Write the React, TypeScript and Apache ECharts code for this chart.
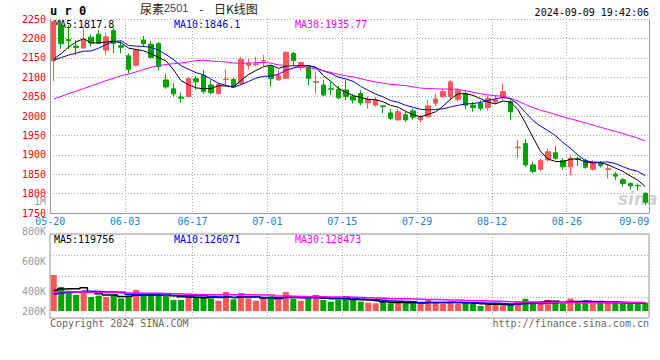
import React, { useEffect, useRef } from 'react';
import * as echarts from 'echarts';

// ---- data ----
const dates: string[] = [
  '05-20', '05-21', '05-22', '05-23', '05-24', '05-27', '05-28', '05-29', '05-30', '05-31',
  '06-03', '06-04', '06-05', '06-06', '06-07', '06-11', '06-12', '06-13', '06-14',
  '06-17', '06-18', '06-19', '06-20', '06-21', '06-24', '06-25', '06-26', '06-27', '06-28',
  '07-01', '07-02', '07-03', '07-04', '07-05', '07-08', '07-09', '07-10', '07-11', '07-12',
  '07-15', '07-16', '07-17', '07-18', '07-19', '07-22', '07-23', '07-24', '07-25', '07-26',
  '07-29', '07-30', '07-31', '08-01', '08-02', '08-05', '08-06', '08-07', '08-08', '08-09',
  '08-12', '08-13', '08-14', '08-15', '08-16', '08-19', '08-20', '08-21', '08-22', '08-23',
  '08-26', '08-27', '08-28', '08-29', '08-30', '09-02', '09-03', '09-04', '09-05', '09-06',
  '09-09',
];
const tickDates: string[] = ['05-20', '06-03', '06-17', '07-01', '07-15', '07-29', '08-12', '08-26', '09-09'];

// [open, close, low, high]
const ohlc: number[][] = [
  [2142, 2243, 2090, 2246], [2234, 2186, 2172, 2247], [2197, 2194, 2172, 2234], [2180, 2176, 2157, 2196],
  [2175, 2198, 2174, 2226], [2203, 2188, 2180, 2210], [2211, 2187, 2186, 2222], [2170, 2204, 2157, 2214],
  [2220, 2187, 2162, 2227], [2181, 2177, 2162, 2192], [2155, 2120, 2110, 2161], [2131, 2170, 2128, 2172],
  [2196, 2186, 2178, 2206], [2185, 2151, 2148, 2193], [2187, 2127, 2117, 2190], [2093, 2075, 2070, 2109],
  [2070, 2057, 2050, 2085], [2049, 2046, 2034, 2060], [2050, 2097, 2048, 2100], [2096, 2088, 2068, 2103],
  [2105, 2063, 2058, 2118], [2080, 2060, 2056, 2092], [2058, 2082, 2055, 2085], [2094, 2095, 2075, 2120],
  [2094, 2075, 2072, 2098], [2084, 2146, 2080, 2152], [2131, 2136, 2120, 2147], [2133, 2134, 2128, 2153],
  [2142, 2143, 2129, 2157], [2127, 2097, 2076, 2131], [2093, 2104, 2091, 2119], [2097, 2164, 2095, 2167],
  [2161, 2143, 2128, 2165], [2125, 2138, 2117, 2140], [2125, 2097, 2080, 2131], [2087, 2089, 2058, 2114],
  [2080, 2054, 2052, 2093], [2070, 2069, 2054, 2088], [2069, 2047, 2044, 2077], [2067, 2050, 2041, 2093],
  [2051, 2041, 2032, 2057], [2058, 2034, 2028, 2067], [2034, 2043, 2019, 2051], [2028, 2041, 2024, 2049],
  [2026, 2024, 2007, 2027], [2008, 1994, 1990, 2018], [1990, 2011, 1988, 2018], [2003, 1990, 1985, 2011],
  [2013, 1997, 1990, 2019], [1990, 1997, 1983, 2003], [1998, 2026, 1996, 2041], [2033, 2044, 2026, 2057],
  [2050, 2063, 2047, 2070], [2050, 2088, 2040, 2092], [2043, 2065, 2037, 2071], [2058, 2028, 2017, 2065],
  [2028, 2022, 2011, 2036], [2033, 2020, 2014, 2040], [2022, 2045, 2014, 2053], [2036, 2042, 2030, 2052],
  [2047, 2063, 2040, 2083], [2037, 2011, 1990, 2043], [1918, 1920, 1891, 1938], [1929, 1874, 1869, 1941],
  [1874, 1857, 1852, 1882], [1863, 1885, 1858, 1891], [1887, 1908, 1882, 1916], [1905, 1891, 1888, 1922],
  [1885, 1869, 1862, 1891], [1869, 1891, 1848, 1899], [1890, 1888, 1871, 1896], [1885, 1868, 1864, 1890],
  [1863, 1880, 1860, 1886], [1878, 1872, 1867, 1884], [1862, 1864, 1839, 1874], [1850, 1845, 1835, 1856],
  [1836, 1826, 1818, 1840], [1826, 1820, 1810, 1829], [1821, 1820, 1808, 1826], [1801, 1778, 1771, 1803],
];

const volumes: number[] = [
  558000, 372000, 315000, 248000, 315000, 217000, 238000, 217000, 248000, 196000,
  238000, 326000, 238000, 264000, 264000, 238000, 171000, 171000, 248000, 222000,
  222000, 196000, 160000, 295000, 181000, 279000, 196000, 160000, 196000, 222000,
  171000, 295000, 196000, 160000, 217000, 248000, 171000, 145000, 171000, 233000,
  171000, 145000, 129000, 119000, 145000, 119000, 140000, 119000, 119000, 119000,
  170000, 140000, 112000, 140000, 112000, 129000, 109000, 78000, 93000, 119000,
  78000, 109000, 145000, 190000, 140000, 119000, 170000, 129000, 119000, 192480,
  125000, 165000, 120000, 125000, 126930, 125000, 115000, 110000, 118000, 130780,
];

// closes / volumes of the 29 sessions before the window (used only for moving averages)
const priorCloses: number[] = [
  1985, 1978, 1990, 1995, 1982, 1988, 2000, 1996, 1990, 1993, 1998, 1998,
  1990, 1985, 1995, 2000, 1992, 1998, 2007, 2020,
  2120, 2130, 2125, 2150, 2180, 2116, 2109, 2111, 2156,
];
const priorVolumes: number[] = [
  320000, 300000, 340000, 290000, 310000, 330000, 280000, 300000, 320000, 310000,
  350000, 290000, 300000, 310000, 330000, 290000, 300000, 320000, 310000, 310000,
  220000, 200000, 215000, 207000, 210000, 260000, 290000, 250000, 230000,
];

const priceMin = 1750;
const priceMax = 2250;
const priceStep = 50;
const volLabelValues: number[] = [200000, 400000, 600000, 800000, 1000000];
const maPeriods: number[] = [5, 10, 30];

const UP = '#ff5656';
const DOWN = '#00a300';
const MA_COLORS = ['#000000', '#0000ff', '#ff00ff'];
const MONO = "'DejaVu Sans Mono', monospace";
const CJK = "'Noto Sans CJK SC', sans-serif";
const GRIDLINE = { color: '#aaaaaa', type: [1, 2] as number[], width: 1 };

function movingAverage(all: number[], n: number, offset: number): number[] {
  const out: number[] = [];
  for (let i = offset; i < all.length; i++) {
    let s = 0;
    for (let k = i - n + 1; k <= i; k++) s += all[k];
    out.push(s / n);
  }
  return out;
}

function volLabel(v: number): string {
  if (v >= 1000000) return v / 1000000 + 'M';
  return v / 1000 + 'K';
}

export default function App() {
  const ref = useRef<HTMLDivElement>(null);
  useEffect(() => {
    if (!ref.current) return;
    const chart = echarts.init(ref.current, undefined, { renderer: 'svg' });
    const closes = ohlc.map((d) => d[1]);
    const allCloses = [...priorCloses, ...closes];
    const allVols = [...priorVolumes, ...volumes];
    const off = priorCloses.length;
    const priceMA = maPeriods.map((n) => movingAverage(allCloses, n, off));
    const volMA = maPeriods.map((n) => movingAverage(allVols, n, priorVolumes.length));
    const last = dates.length - 1;
    const pLegend = [
      'MA5:' + priceMA[0][last].toFixed(1),
      'MA10:' + priceMA[1][last].toFixed(1),
      'MA30:' + priceMA[2][last].toFixed(2),
    ];
    const vLegend = maPeriods.map((n, k) => 'MA' + n + ':' + Math.round(volMA[k][last]));
    const isTick = (i: number) => tickDates.includes(dates[i]);
    const volSum = 84;
    const volPerPx = 15500;

    const legendTexts = (y: number, texts: string[]) =>
      texts.map((t, k) => ({
        type: 'text',
        x: [54, 174, 295][k],
        y,
        style: { text: t, fill: MA_COLORS[k], font: `10px ${MONO}`, textVerticalAlign: 'middle', verticalAlign: 'middle' },
      }));

    const option: any = {
      animation: false,
      backgroundColor: '#ffffff',
      title: {
        text: '{a|尿素}{b|2501}{c| - }{a|日K线图}',
        left: 140,
        top: 2,
        padding: 0,
        textStyle: {
          fontSize: 12, fontWeight: 'normal', color: '#222', fontFamily: CJK,
          rich: {
            a: { fontSize: 12, color: '#222', fontFamily: CJK },
            b: { fontSize: 11, color: '#444', fontFamily: "'Liberation Sans', sans-serif" },
            c: { fontSize: 12, color: '#222', fontFamily: CJK, padding: [0, 8, 0, 8] },
          },
        },
      },
      grid: [
        { left: 50, right: 11, top: 19, height: 194 },
        { left: 50, right: 11, top: 234, height: volSum, show: true, borderColor: '#999', borderWidth: 1, backgroundColor: 'transparent' },
        { left: 50, right: 11, top: 201, height: 150 },
      ],
      xAxis: [
        {
          type: 'category', gridIndex: 0, data: dates, boundaryGap: true,
          axisLine: { show: true, lineStyle: { color: '#999' } },
          axisTick: { show: false },
          axisLabel: {
            interval: (i: number, v: string) => tickDates.includes(v),
            formatter: (v: string, i: number) => (i === last ? `{e|${v}}` : `{n|${v}}`),
            margin: 3,
            color: '#1f7fd0', fontFamily: MONO, fontSize: 10,
            rich: {
              n: { padding: [0, 7, 0, 0], color: '#1f7fd0', fontFamily: MONO, fontSize: 10 },
              e: { padding: [0, 22, 0, 0], color: '#1f7fd0', fontFamily: MONO, fontSize: 10 },
            },
          },
          splitLine: { show: true, interval: (i: number) => i > 0 && i < last && isTick(i), lineStyle: GRIDLINE },
        },
        {
          type: 'category', gridIndex: 1, data: dates, boundaryGap: true,
          axisLine: { show: false }, axisTick: { show: false }, axisLabel: { show: false },
          splitLine: { show: true, interval: (i: number) => i > 0 && i < last && isTick(i), lineStyle: GRIDLINE },
        },
        { type: 'category', gridIndex: 2, data: dates, show: false },
      ],
      yAxis: [
        {
          type: 'value', gridIndex: 0, min: priceMin, max: priceMax, interval: priceStep, position: 'left',
          axisLine: { show: true, lineStyle: { color: '#999' } },
          axisTick: { show: false },
          axisLabel: { color: '#ff0000', fontFamily: MONO, fontSize: 10, margin: 4, padding: [0, 0, 4, 0], formatter: (v: number) => String(v) },
          splitLine: { show: true, lineStyle: GRIDLINE },
        },
        {
          type: 'value', gridIndex: 0, min: priceMin, max: priceMax, position: 'right',
          axisLine: { show: true, lineStyle: { color: '#999' } },
          axisTick: { show: false }, axisLabel: { show: false }, splitLine: { show: false },
        },
        {
          type: 'value', gridIndex: 1, position: 'left',
          min: -7 * volPerPx, max: (volSum - 7) * volPerPx,
          axisLine: { show: false }, axisTick: { show: false }, axisLabel: { show: false }, splitLine: { show: false },
        },
        {
          type: 'value', gridIndex: 1, position: 'left', min: 0, max: 4, interval: 1,
          axisLine: { show: false }, axisTick: { show: false }, axisLabel: { show: false },
          splitLine: { show: true, lineStyle: GRIDLINE },
        },
        {
          type: 'value', gridIndex: 2, position: 'left', min: 0, max: volLabelValues[volLabelValues.length - 1], interval: volLabelValues[0],
          axisLine: { show: false }, axisTick: { show: false }, splitLine: { show: false },
          axisLabel: {
            color: '#999', fontFamily: MONO, fontSize: 10, margin: 4,
            formatter: (v: number) => {
              if (!volLabelValues.includes(v)) return '';
              return v === volLabelValues[0] ? `{s|${volLabel(v)}}` : volLabel(v);
            },
            rich: { s: { padding: [0, 0, 20, 0], color: '#999', fontFamily: MONO, fontSize: 10 } },
          },
        },
      ],
      graphic: [
        { type: 'text', x: 50, y: 11, style: { text: 'u r 0', fill: '#000', font: `bold 12px ${MONO}`, textVerticalAlign: 'middle', verticalAlign: 'middle' } },
        { type: 'text', x: 649, y: 12, style: { text: '2024-09-09 19:42:06', fill: '#000', font: `10px ${MONO}`, textAlign: 'right', align: 'right', textVerticalAlign: 'middle', verticalAlign: 'middle' } },
        ...legendTexts(24, pLegend),
        ...legendTexts(239, vLegend),
        { type: 'text', x: 50, y: 323, style: { text: 'Copyright 2024 SINA.COM', fill: '#666', font: `10px ${MONO}`, textVerticalAlign: 'middle', verticalAlign: 'middle' } },
        { type: 'text', x: 649, y: 323, style: { text: 'http://finance.sina.com.cn', fill: '#666', font: `10px ${MONO}`, textAlign: 'right', align: 'right', textVerticalAlign: 'middle', verticalAlign: 'middle' } },
        { type: 'text', x: 618, y: 199, z: -1, style: { text: 'sina', fill: 'rgba(150,150,150,0.45)', font: `italic bold 17px 'DejaVu Sans', sans-serif`, textVerticalAlign: 'middle', verticalAlign: 'middle' } },
      ],
      series: [
        {
          type: 'candlestick', xAxisIndex: 0, yAxisIndex: 0, data: ohlc, barWidth: 5,
          itemStyle: { color: UP, color0: DOWN, borderColor: UP, borderColor0: DOWN, borderWidth: 1 },
        },
        ...priceMA.map((d, k) => ({
          type: 'line', xAxisIndex: 0, yAxisIndex: 0, data: d.map((v) => +v.toFixed(2)), symbol: 'none', silent: true,
          lineStyle: { color: MA_COLORS[k], width: 1 },
        })),
        {
          type: 'bar', xAxisIndex: 1, yAxisIndex: 2, barWidth: 6,
          data: volumes.map((v, i) => ({ value: v, itemStyle: { color: ohlc[i][1] >= ohlc[i][0] ? UP : DOWN } })),
        },
        ...volMA.map((d, k) => ({
          type: 'line', xAxisIndex: 1, yAxisIndex: 2, data: d.map((v) => Math.round(v)), symbol: 'none', silent: true, step: 'middle',
          lineStyle: { color: MA_COLORS[k], width: 1.5 },
        })),
      ],
    };
    chart.setOption(option);
    return () => chart.dispose();
  }, []);
  return <div ref={ref} style={{ position: 'fixed', left: 0, top: 0, width: 660, height: 360, background: '#fff' }} />;
}
